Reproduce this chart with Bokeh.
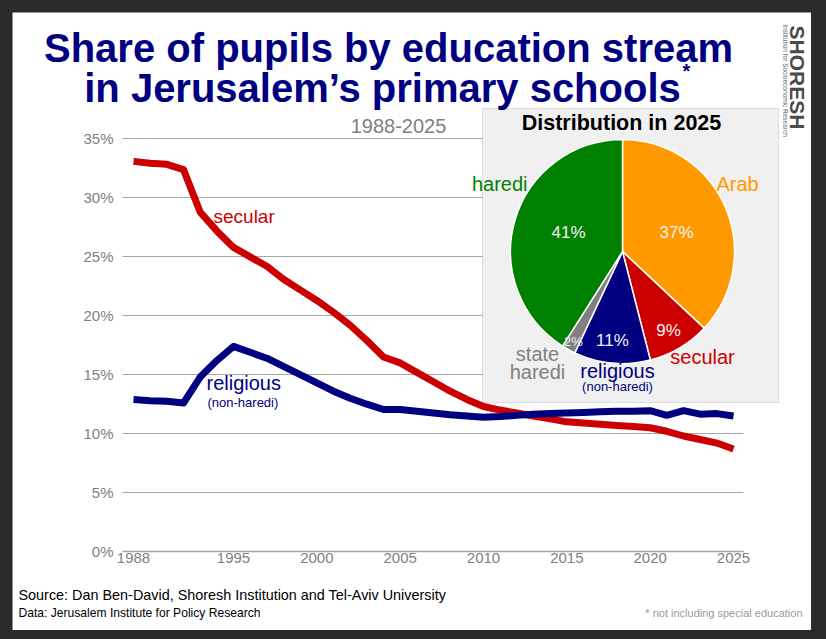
import math
from bokeh.plotting import figure
from bokeh.models import Range1d, FixedTicker, PrintfTickFormatter, Label, BoxAnnotation
from bokeh.embed import file_html
from bokeh.resources import INLINE

# ---------------- data ----------------
years = [1988, 1990, 1991, 1992, 1993, 1994, 1995, 1996, 1997, 1998, 1999,
         2000, 2001, 2002, 2003, 2004, 2005, 2006, 2007, 2008, 2009, 2010,
         2011, 2012, 2013, 2014, 2015, 2016, 2017, 2018, 2019, 2020, 2021,
         2022, 2023, 2024, 2025]
secular = [33.1, 32.95, 32.85, 32.4, 28.8, 27.2, 25.8, 25.0, 24.2, 23.1, 22.2,
           21.3, 20.3, 19.2, 17.9, 16.5, 16.0, 15.2, 14.4, 13.6, 12.9, 12.3,
           12.0, 11.75, 11.5, 11.25, 11.0, 10.9, 10.8, 10.7, 10.6, 10.5, 10.2,
           9.8, 9.5, 9.2, 8.7]
religious = [12.9, 12.8, 12.75, 12.6, 14.8, 16.2, 17.4, 16.9, 16.4, 15.7, 15.0,
             14.3, 13.6, 13.0, 12.5, 12.05, 12.05, 11.9, 11.75, 11.6, 11.5, 11.4,
             11.45, 11.55, 11.65, 11.7, 11.75, 11.8, 11.85, 11.9, 11.9, 11.95, 11.55,
             11.95, 11.65, 11.7, 11.5]
tick_years = [1988, 1995, 2000, 2005, 2010, 2015, 2020, 2025]
y_ticks = [0, 5, 10, 15, 20, 25, 30, 35]

pie_names = ["Arab", "secular", "religious", "state haredi", "haredi"]
pie_shares = [37, 9, 11, 2, 41]
pie_colors = ["#FF9900", "#CC0000", "#000080", "#808080", "#008000"]

RED = "#CC0000"
NAVY = "#000080"
GRAY = "#808080"
FONT = "Liberation Sans"

# ---------------- layout constants (image pixels) ----------------
CARD = (12, 811, 12, 630)          # left, right, top, bottom of the white card
X0_PX, DX_PX = 133.0, 16.667       # position of first category, px per category
Y0_PX, DY_PX = 551.0, 11.786       # position of 0 %, px per percent
PLOT_L, PLOT_R = 122.0, 743.0      # extent of the gridlines / x-axis


def xi(px):
    return (px - X0_PX) / DX_PX


def yv(px):
    return (Y0_PX - px) / DY_PX


W = CARD[1] - CARD[0]
H = CARD[3] - CARD[2]
xs = list(range(len(years)))

p = figure(width=W, height=H, output_backend="svg", toolbar_location=None,
           x_range=Range1d(xi(CARD[0]), xi(CARD[1])),
           y_range=Range1d(yv(CARD[3]), yv(CARD[2])),
           min_border_left=0, min_border_right=0, min_border_top=0,
           min_border_bottom=0)
p.margin = (CARD[2], 0, 0, CARD[0])
p.outline_line_color = None
p.background_fill_color = "white"
p.border_fill_color = "white"

# pixel-like helper ranges (image coordinates) for annotations / inset
p.extra_x_ranges = {"px": Range1d(CARD[0], CARD[1])}
p.extra_y_ranges = {"px": Range1d(CARD[3], CARD[2])}

# axes (drawn at fixed locations inside the card)
p.xaxis.fixed_location = 0
p.xaxis.bounds = (xi(PLOT_L), xi(PLOT_R))
p.xaxis.ticker = FixedTicker(ticks=[years.index(y) for y in tick_years])
p.xaxis.major_label_overrides = {years.index(y): str(y) for y in tick_years}
p.xaxis.axis_line_color = "#a6a6a6"
p.xaxis.axis_line_width = 1.5
p.xaxis.major_tick_line_color = None
p.xaxis.minor_tick_line_color = None
p.xaxis.major_tick_out = 0
p.xaxis.major_tick_in = 0
p.xaxis.major_label_standoff = 1
p.xaxis.major_label_text_font = FONT
p.xaxis.major_label_text_font_size = "15px"
p.xaxis.major_label_text_color = GRAY

p.yaxis.fixed_location = xi(PLOT_L)
p.yaxis.ticker = FixedTicker(ticks=y_ticks)
p.yaxis.formatter = PrintfTickFormatter(format="%d%%")
p.yaxis.axis_line_color = None
p.yaxis.major_tick_line_color = None
p.yaxis.minor_tick_line_color = None
p.yaxis.major_tick_out = 0
p.yaxis.major_tick_in = 0
p.yaxis.major_label_standoff = 9
p.yaxis.major_label_text_font = FONT
p.yaxis.major_label_text_font_size = "15px"
p.yaxis.major_label_text_color = GRAY

p.xgrid.grid_line_color = None
p.ygrid.ticker = FixedTicker(ticks=y_ticks)
p.ygrid.grid_line_color = "#a6a6a6"
p.ygrid.grid_line_width = 1
p.ygrid.cross_bounds = (xi(PLOT_L), xi(PLOT_R))

# lines
p.line(xs, secular, line_color=RED, line_width=7, line_join="round")
p.line(xs, religious, line_color=NAVY, line_width=7, line_join="round")

# ---------------- inset box + pie ----------------
box = BoxAnnotation(left=482, right=778, top=108, bottom=402,
                    x_range_name="px", y_range_name="px",
                    fill_color="#f0f0f0", fill_alpha=1.0,
                    line_color="#a0a0a0", line_width=1, level="underlay")
p.add_layout(box)

cum = 0.0
starts, ends = [], []
total = float(sum(pie_shares))
for s in pie_shares:
    starts.append(math.pi / 2 - 2 * math.pi * cum / total)
    cum += s
    ends.append(math.pi / 2 - 2 * math.pi * cum / total)
p.wedge(x=[622] * len(pie_shares), y=[251] * len(pie_shares), radius=112,
        radius_units="screen", start_angle=starts, end_angle=ends,
        direction="clock", fill_color=pie_colors, line_color="white",
        line_width=1.5, x_range_name="px", y_range_name="px")


def lab(x, y, text, size, color, align="left", baseline="middle", bold=False,
        angle=0.0):
    p.add_layout(Label(x=x, y=y, text=text, x_range_name="px", y_range_name="px",
                       text_font=FONT, text_font_size=size, text_color=color,
                       text_align=align, text_baseline=baseline,
                       text_font_style="bold" if bold else "normal", angle=angle))


# inset texts
lab(621, 122, "Distribution in 2025", "21.5px", "black", "center", bold=True)
lab(527, 183, "haredi", "20px", pie_colors[4], "right")
lab(716, 183, "Arab", "20px", pie_colors[0], "left")
lab(568, 232, "%d%%" % pie_shares[4], "17px", "#f2f2f2", "center")
lab(676, 232, "%d%%" % pie_shares[0], "17px", "#f2f2f2", "center")
lab(668, 330, "%d%%" % pie_shares[1], "17px", "#f2f2f2", "center")
lab(612, 340, "%d%%" % pie_shares[2], "17px", "#f2f2f2", "center")
lab(573, 341, "%d%%" % pie_shares[3], "13px", "#f2f2f2", "center")
lab(702, 356, "secular", "20px", pie_colors[1], "center")
lab(537, 353, "state", "20px", pie_colors[3], "center")
lab(537, 371, "haredi", "20px", pie_colors[3], "center")
lab(617, 370, "religious", "20px", pie_colors[2], "center")
lab(617, 386, "(non-haredi)", "13px", pie_colors[2], "center")

# main chart texts
lab(388, 47, "Share of pupils by education stream", "40px", NAVY, "center",
    baseline="alphabetic", bold=True)
lab(382, 87, "in Jerusalem\u2019s primary schools", "40px", NAVY, "center",
    baseline="alphabetic", bold=True)
lab(682, 70, "*", "20px", NAVY, "left", baseline="alphabetic", bold=True)
lab(398, 125, "1988-2025", "20px", GRAY, "center")
lab(213, 216, "secular", "19px", RED, "left")
lab(206, 382, "religious", "20px", NAVY, "left")
lab(207, 402, "(non-haredi)", "13px", NAVY, "left")

# footer
lab(18, 594, "Source: Dan Ben-David, Shoresh Institution and Tel-Aviv University",
    "14.4px", "black", "left")
lab(18, 612, "Data: Jerusalem Institute for Policy Research", "12.1px", "black", "left")
lab(802, 612, "* not including special education", "11px", "#999999", "right")

# logo
lab(797, 77, "SHORESH", "21px", "#4a4a4a", "center", bold=True, angle=-math.pi / 2)
lab(785, 80, "Institution for Socioeconomic Research", "6.5px", "#666666", "center",
    angle=-math.pi / 2)

html = file_html(p, INLINE)
style = "<style>html, body { background-color: #2b2b2b !important; }</style>"
if "</head>" in html:
    html = html.replace("</head>", style + "</head>", 1)
else:
    html = style + html
open("out.html", "w").write(html)
